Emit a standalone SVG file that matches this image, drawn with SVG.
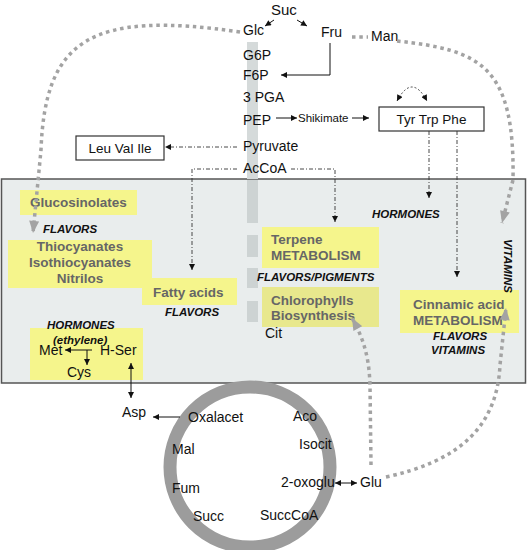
<svg xmlns="http://www.w3.org/2000/svg" width="527" height="550" viewBox="0 0 527 550">
<style>
text{font-family:"Liberation Sans",Arial,sans-serif;font-size:14px;fill:#111}
.s{font-size:11.5px}
.b{font-weight:bold;font-size:13.5px;fill:#666}
.i{font-weight:bold;font-style:italic;font-size:11.5px;fill:#111}
.box{fill:#fff;stroke:#333;stroke-width:1.2}
.y{fill:#f5f58c}
.ar{stroke:#111;stroke-width:1;fill:none}
.dd{stroke:#333;stroke-width:0.9;fill:none;stroke-dasharray:4 2 1 2}
.dt{stroke:#333;stroke-width:0.9;fill:none;stroke-dasharray:2 2}
.gd{stroke:#a3a3a3;stroke-width:3.5;fill:none;stroke-dasharray:3.5 3.8}
.bar{fill:#d5dada}
.bar2{fill:#cdd3d3}
</style>
<defs>
<marker id="ah" viewBox="0 0 10 10" refX="10" refY="5" markerWidth="7" markerHeight="6" markerUnits="userSpaceOnUse" orient="auto-start-reverse"><path d="M0,0 L10,5 L0,10 z" fill="#111"/></marker>
<marker id="gh" viewBox="0 0 12 10" refX="12" refY="5" markerWidth="13" markerHeight="10" markerUnits="userSpaceOnUse" orient="auto"><path d="M0,0 L12,5 L0,10 z" fill="#a3a3a3"/></marker>
</defs>
<rect width="527" height="550" fill="#fff"/>
<g id="compartment">
<rect x="1.5" y="179" width="524" height="204" fill="#e9eded" stroke="#555" stroke-width="1.5"/>
</g>
<g id="glycolysis-bar">
<rect class="bar" x="247" y="42" width="11" height="137"/>
<rect class="bar2" x="247" y="180" width="11" height="43"/>
<rect class="bar2" x="247" y="235" width="11" height="22"/>
<rect class="bar2" x="247" y="268" width="11" height="20"/>
<rect class="bar2" x="247" y="301" width="11" height="21"/>
</g>
<g id="suc"><text x="271" y="15" style="font-size:15px">Suc</text></g>
<g id="glc"><text x="243" y="35">Glc</text></g>
<g id="fru"><text x="321" y="37">Fru</text></g>
<g id="man"><text x="371" y="41">Man</text></g>
<g id="g6p"><text x="243" y="60">G6P</text></g>
<g id="f6p"><text x="243" y="80">F6P</text></g>
<g id="pga"><text x="243" y="102">3 PGA</text></g>
<g id="pep"><text x="243" y="125">PEP</text></g>
<g id="shikimate"><text class="s" x="298" y="122">Shikimate</text></g>
<g id="pyruvate"><text x="243" y="151">Pyruvate</text></g>
<g id="accoa"><text x="243" y="173">AcCoA</text></g>
<g id="tyr"><rect class="box" x="379" y="107" width="105" height="24"/><text x="431.5" y="124" text-anchor="middle" style="font-size:13.5px">Tyr Trp Phe</text></g>
<g id="leu"><rect class="box" x="76" y="136" width="88" height="24"/><text x="120" y="153" text-anchor="middle" style="font-size:13.5px">Leu Val Ile</text></g>
<g id="glucosinolates"><rect class="y" x="20" y="190" width="117" height="25"/><text class="b" x="30" y="207">Glucosinolates</text><text class="i" x="43" y="233">FLAVORS</text></g>
<g id="thiocyanates"><rect class="y" x="8" y="240" width="144" height="48"/><text class="b" x="80" y="251" text-anchor="middle">Thiocyanates</text><text class="b" x="80" y="267" text-anchor="middle">Isothiocyanates</text><text class="b" x="80" y="283" text-anchor="middle">Nitrilos</text></g>
<g id="fatty"><rect class="y" x="142" y="278" width="95" height="27"/><text class="b" x="153" y="297">Fatty acids</text><text class="i" x="165" y="316">FLAVORS</text></g>
<g id="ethylene"><rect class="y" x="30" y="328" width="113" height="52"/><text class="i" x="47" y="329">HORMONES</text><text class="i" x="53" y="344">(ethylene)</text><text x="39" y="355">Met</text><text x="100" y="355">H-Ser</text><text x="67" y="377">Cys</text></g>
<g id="terpene"><rect class="y" x="262" y="227" width="117" height="41"/><text class="b" x="271" y="244">Terpene</text><text class="b" x="271" y="260">METABOLISM</text><text class="i" x="257" y="281">FLAVORS/PIGMENTS</text></g>
<g id="chlorophylls"><rect x="262" y="287" width="117" height="40" fill="#e8e88d"/><text class="b" x="271" y="305">Chlorophylls</text><text class="b" x="271" y="320">Biosynthesis</text></g>
<g id="cit"><text x="265" y="338">Cit</text></g>
<g id="hormones"><text class="i" x="372" y="218">HORMONES</text></g>
<g id="cinnamic"><rect class="y" x="400" y="290" width="119" height="43"/><text class="b" x="413" y="309">Cinnamic acid</text><text class="b" x="413" y="325">METABOLISM</text><text class="i" x="433" y="340">FLAVORS</text><text class="i" x="431" y="354">VITAMINS</text></g>
<g id="vitamins"><text class="i" transform="translate(504,266) rotate(90)" text-anchor="middle">VITAMINS</text></g>
<g id="tca">
<circle cx="250" cy="467" r="80" fill="none" stroke="#9c9c9c" stroke-width="13"/>
<text x="188" y="422">Oxalacet</text>
<text x="172" y="454">Mal</text>
<text x="172" y="493">Fum</text>
<text x="193" y="521">Succ</text>
<text x="260" y="520">SuccCoA</text>
<text x="293" y="421">Aco</text>
<text x="299" y="449">Isocit</text>
<text x="281" y="487">2-oxoglu</text>
</g>
<g id="asp"><text x="122" y="417">Asp</text></g>
<g id="glu"><text x="360" y="487">Glu</text></g>
<g id="connectors">
<path class="ar" d="M274,20 L265,26" marker-end="url(#ah)"/>
<path class="ar" d="M297,20 L307,26" marker-end="url(#ah)"/>
<path class="ar" d="M330,43 V75 H281" marker-end="url(#ah)"/>
<path class="ar" d="M276,118 H297" marker-end="url(#ah)"/>
<path class="ar" d="M352,118 H369" marker-end="url(#ah)"/>
<path class="dt" d="M397,101 Q412,73 427,101" marker-start="url(#ah)" marker-end="url(#ah)"/>
<path class="dd" d="M429,131 V198" marker-end="url(#ah)"/>
<path class="dd" d="M457,131 V277" marker-end="url(#ah)"/>
<path class="dd" d="M237,147 H165" marker-end="url(#ah)"/>
<path class="dd" d="M237,169 H192 V270" marker-end="url(#ah)"/>
<path class="dd" d="M291,169 H335 V222" marker-end="url(#ah)"/>
<path class="ar" d="M92,350 H65" marker-end="url(#ah)"/>
<path class="ar" d="M87,350 V365" marker-end="url(#ah)"/>
<path class="ar" d="M131,363 V398" marker-start="url(#ah)" marker-end="url(#ah)"/>
<path class="ar" d="M180,417 H153" marker-end="url(#ah)"/>
<path class="ar" d="M335,483 H357" marker-start="url(#ah)" marker-end="url(#ah)"/>
<path class="gd" d="M240,32 C90,10 45,40 41,150 L33,233" marker-end="url(#gh)"/>
<path class="gd" d="M352,37 H368"/>
<path class="gd" d="M397,41 C480,50 515,65 513,180 L502,223" marker-end="url(#gh)"/>
<path class="gd" d="M371,465 L370,385 C369,355 363,338 352,318" marker-end="url(#gh)"/>
<path class="gd" d="M386,477 C455,462 497,430 500,365 L506,308" marker-end="url(#gh)"/>
</g>
</svg>
